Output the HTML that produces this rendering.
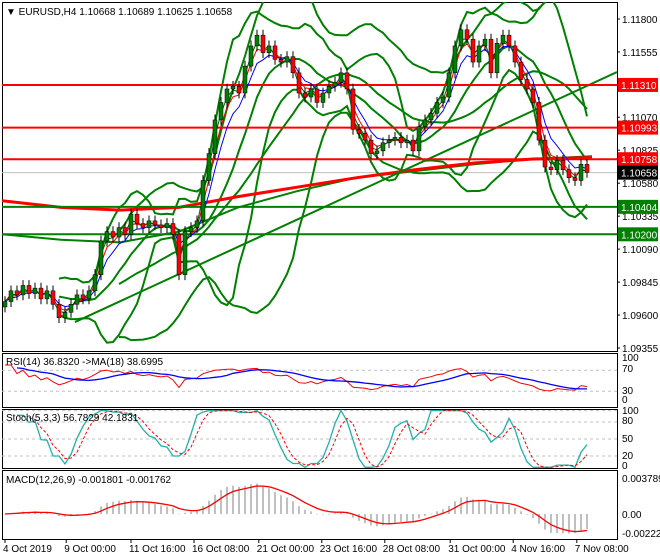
<!DOCTYPE html>
<html><head><meta charset="utf-8"><style>
html,body{margin:0;padding:0;background:#fff;}
svg{display:block;font-family:"Liberation Sans",sans-serif;}
</style></head><body>
<svg id="c" width="660" height="560" viewBox="0 0 660 560" xmlns="http://www.w3.org/2000/svg"></svg>
<script>
// ===== DATA =====
const closes = [1.0970,1.0978,1.0975,1.0982,1.0976,1.0980,1.0972,1.0978,1.0968,1.0958,1.0962,1.0968,1.0975,1.0972,1.0978,1.0990,1.1015,1.1022,1.1018,1.1025,1.1020,1.1035,1.1028,1.1025,1.1030,1.1027,1.1025,1.1028,1.1020,1.0990,1.1022,1.1025,1.1030,1.1060,1.1080,1.1105,1.1118,1.1128,1.1130,1.1125,1.1145,1.1160,1.1168,1.1155,1.1160,1.1150,1.1148,1.1152,1.1140,1.1125,1.1122,1.1128,1.1118,1.1125,1.1130,1.1133,1.1140,1.1128,1.1098,1.1095,1.1090,1.1080,1.1082,1.1088,1.1090,1.1092,1.1088,1.1090,1.1082,1.1100,1.1105,1.1110,1.1118,1.1122,1.1140,1.1160,1.1172,1.1165,1.1148,1.1160,1.1165,1.1140,1.1162,1.1168,1.1160,1.1148,1.1135,1.1128,1.1118,1.1090,1.1070,1.1068,1.1075,1.1068,1.1062,1.1060,1.1072,1.1066];
const firstOpen = 1.0966;
const slowRedMA = [1.1045,1.1040,1.1038,1.1040,1.1048,1.1055,1.1062,1.1068,1.1073,1.1076,1.1077];
const slowGreenMA = [1.1020,1.1016,1.1014,1.1022,1.1040,1.1052,1.1062,1.1067,1.1072,1.1076,1.1078];
const trendLine = [1.09548,1.11406];
const redLevels = [1.11310,1.10993,1.10758];
const greenLevels = [1.10404,1.10200];
const lastPrice = 1.10658;
const priceTicks = [1.11800,1.11555,1.11070,1.10825,1.10580,1.10335,1.10090,1.09845,1.09600,1.09355];
const timeLabels = ["4 Oct 2019","9 Oct 00:00","11 Oct 16:00","16 Oct 08:00","21 Oct 00:00","23 Oct 16:00","28 Oct 08:00","31 Oct 00:00","4 Nov 16:00","7 Nov 08:00"];
const timeIdx = [0,10.2,21,31.5,42.3,52.8,63.3,74.2,84.7,95.3];

// ===== SCALES =====
const X0=5, DX=6, PR=617;
const xb = i => X0 + i*DX;
const yp = p => 19 + (1.118 - p)*13457;
const yRsi = v => 407 - 0.525*v;
const ySto = v => 467.3 - 0.567*v;
const yMacd = v => 514 - v*9500;
const svg = document.getElementById('c');
const NS='http://www.w3.org/2000/svg';
function mk(tag, at, parent){const e=document.createElementNS(NS,tag);for(const k in at)e.setAttribute(k,at[k]);(parent||svg).appendChild(e);return e;}
function poly(pts, stroke, w, dash, name){
  const e=mk('polyline',{points:pts.map(p=>p[0].toFixed(1)+','+p[1].toFixed(1)).join(' '),fill:'none',stroke:stroke,'stroke-width':w});
  if(dash)e.setAttribute('stroke-dasharray',dash);
  
  
  return e;
}
function txt(x,y,s,opt){const e=mk('text',Object.assign({x:x,y:y,'font-size':11,fill:'#000'},opt||{}));e.textContent=s;return e;}

const defs=mk('defs',{});
[['cm',2,2,615,349],['cr',2,353,615,54],['cs',2,409,615,59],['cd',2,470,615,69]].forEach(c=>{const cp=mk('clipPath',{id:c[0]},defs);mk('rect',{x:c[1],y:c[2],width:c[3],height:c[4]},cp);});

[[2,2,615,349,'main-panel'],[2,353,615,54,'rsi-panel'],[2,409,615,59,'stoch-panel'],[2,470,615,69,'macd-panel']].forEach(r=>{
  const e=mk('rect',{x:r[0]+0.5,y:r[1]+0.5,width:r[2],height:r[3],fill:'#fff',stroke:'#000','stroke-width':1});
  
  
});

// ===== MAIN =====
const gM=mk('g',{'clip-path':'url(#cm)'});
function sma(a,n){return a.map((v,i)=>{if(i<n-1)return null;let s=0;for(let k=i-n+1;k<=i;k++)s+=a[k];return s/n;});}
function ema(a,n){const k=2/(n+1);let r=[],p=a[0];a.forEach((v,i)=>{p=i?v*k+p*(1-k):v;r.push(p);});return r;}
function std(a,n,m){return a.map((v,i)=>{if(m[i]==null)return null;let s=0;for(let k=i-n+1;k<=i;k++)s+=(a[k]-m[i])**2;return Math.sqrt(s/n);});}
function series(a,f){const pts=[];a.forEach((v,i)=>{if(v!=null)pts.push([xb(i),f(v)]);});return pts;}

const gl=mk('line',{x1:2,x2:PR,y1:yp(lastPrice),y2:yp(lastPrice),stroke:'#c0c0c0','stroke-width':1},gM);


[[10,2],[20,2]].forEach((b,bi)=>{
  const m=sma(closes,b[0]), sd=std(closes,b[0],m);
  const up=m.map((v,i)=>v==null?null:v+b[1]*sd[i]), lo=m.map((v,i)=>v==null?null:v-b[1]*sd[i]);
  [up,m,lo].forEach((s,si)=>{const e=poly(series(s,yp),'#008000',2,null,'bollinger-'+b[0]+'-'+['upper','middle','lower'][si]);gM.appendChild(e);});
});
const sx=i=>2+i*(590/(slowRedMA.length-1));
gM.appendChild(poly(slowGreenMA.map((v,i)=>[sx(i),yp(v)]),'#008000',2,null,'slow-green-ma'));
gM.appendChild(poly(slowRedMA.map((v,i)=>[sx(i),yp(v)]),'#ff0000',3,null,'slow-red-ma'));
const tl=mk('line',{x1:75,y1:yp(trendLine[0]),x2:PR,y2:yp(trendLine[1]),stroke:'#008000','stroke-width':2},gM);

redLevels.forEach(v=>{const e=mk('line',{x1:2,x2:PR,y1:yp(v),y2:yp(v),stroke:'#ff0000','stroke-width':2},gM);
  });
greenLevels.forEach(v=>{const e=mk('line',{x1:2,x2:PR,y1:yp(v),y2:yp(v),stroke:'#008000','stroke-width':2},gM);
  });

gM.appendChild(poly(series(ema(closes,3),yp),'#ff0000',1,null,'ema-fast'));
gM.appendChild(poly(series(ema(closes,5),yp),'#0000ff',1,null,'ema-slow'));
gM.appendChild(poly(series(ema(closes,2),yp),'#006400',1,null,'ema-fastest'));

closes.forEach((c,i)=>{
  const o=i?closes[i-1]:firstOpen, hi=Math.max(o,c)+0.0004, lo=Math.min(o,c)-0.0004;
  const x=xb(i);
  const w=mk('line',{x1:x,x2:x,y1:yp(hi),y2:yp(lo),stroke:'#000','stroke-width':1},gM);
  
  const top=yp(Math.max(o,c)), h=Math.max(1,Math.abs(yp(o)-yp(c)));
  const b=mk('rect',{x:x-2,y:top,width:4,height:h,fill:c>=o?'#008000':'#ff0000',stroke:'#000','stroke-width':0.5},gM);
  
});

const hd=txt(6,15,'▼ EURUSD,H4  1.10668 1.10689 1.10625 1.10658',{'font-size':10});


priceTicks.forEach(p=>{const t=txt(622,yp(p)+4,p.toFixed(5),{'font-size':10});
  
  mk('line',{x1:617,x2:620,y1:yp(p),y2:yp(p),stroke:'#000'});});
function tag(v,col,name){const y=yp(v);const r=mk('rect',{x:618,y:y-7,width:40,height:14,fill:col});
  
  txt(621,y+4,v.toFixed(5),{'font-size':10,fill:'#fff'});}
redLevels.forEach(v=>tag(v,'#ff0000','level-price-tag'));
greenLevels.forEach(v=>tag(v,'#008000','level-price-tag'));
tag(lastPrice,'#000','current-price-tag');

// ===== RSI =====
function rsi(a,n){let r=[],g=0,l=0;for(let i=1;i<a.length;i++){const d=a[i]-a[i-1];const up=Math.max(d,0),dn=Math.max(-d,0);
  const m=Math.min(i,n);g=(g*(m-1)+up)/m;l=(l*(m-1)+dn)/m;r.push(100-100/(1+g/(l||1e-9)));}
  r.unshift(r[0]);return r.map(v=>Math.max(25,Math.min(85,v*0.6+20)));}
const rs=rsi(closes,7);
const rsMa=rs.map((v,i)=>{if(i<2)return null;const n=Math.min(9,i+1);let s=0;for(let k=i-n+1;k<=i;k++)s+=rs[k];return s/n;});
const gR=mk('g',{'clip-path':'url(#cr)'});
[70,30].forEach(v=>mk('line',{x1:2,x2:PR,y1:yRsi(v),y2:yRsi(v),stroke:'#c0c0c0','stroke-dasharray':'3,3'},gR));
gR.appendChild(poly(series(rs,yRsi),'#ff0000',1,null,'rsi-line'));
gR.appendChild(poly(series(rsMa,yRsi),'#0000ff',1.3,null,'rsi-ma-line'));
txt(6,365,'RSI(14) 36.8320  ->MA(18) 38.6995',{'font-size':10});
[[100,361],[70,372],[30,394],[0,403]].forEach(a=>txt(622,a[1],String(a[0]),{'font-size':10}));

// ===== STOCH =====
const K=closes.map((c,i)=>{const s=Math.max(0,i-4);let h=-1,l=9;for(let k=s;k<=i;k++){const o=k?closes[k-1]:firstOpen;h=Math.max(h,o,closes[k]);l=Math.min(l,o,closes[k]);}return 100*(c-l)/((h-l)||1e-9);});
const Ks=K.map((v,i)=>(i<2)?null:(K[i]+K[i-1]+K[i-2])/3);
const Ds=Ks.map((v,i)=>(i<4)?null:(Ks[i]+Ks[i-1]+Ks[i-2])/3);
const gS=mk('g',{'clip-path':'url(#cs)'});
[100,80,50,20].forEach(v=>mk('line',{x1:2,x2:PR,y1:ySto(v),y2:ySto(v),stroke:'#c0c0c0','stroke-dasharray':'3,3'},gS));
gS.appendChild(poly(series(Ks,ySto),'#20b2aa',1.3,null,'stoch-k-line'));
gS.appendChild(poly(series(Ds,ySto),'#ff0000',1,'3,2','stoch-d-line'));
txt(6,421,'Stoch(5,3,3) 56.7829 42.1831',{'font-size':10});
[[100,414],[80,424],[50,442],[20,459],[0,469]].forEach(a=>txt(622,a[1],String(a[0]),{'font-size':10}));

// ===== MACD =====
const e1=ema(closes,6), e2=ema(closes,13);
const macd=e1.map((v,i)=>v-e2[i]);
const sig=ema(macd,5);
const gD=mk('g',{'clip-path':'url(#cd)'});
macd.forEach((v,i)=>{const y=yMacd(v);const b=mk('rect',{x:xb(i)-1,y:Math.min(y,514),width:2,height:Math.max(0.5,Math.abs(y-514)),fill:'#c0c0c0'},gD);
  });
gD.appendChild(poly(series(sig,yMacd),'#ff0000',1.3,null,'macd-signal-line'));
txt(6,483,'MACD(12,26,9) -0.001801 -0.001762',{'font-size':10});
[['0.003789',482],['0.00',518],['-0.002223',537]].forEach(a=>txt(622,a[1],a[0],{'font-size':10}));

timeLabels.forEach((s,i)=>{const x=xb(timeIdx[i]);mk('line',{x1:x,x2:x,y1:539,y2:543,stroke:'#000'});
  const t=txt(x-2,552,s,{'font-size':10});});
</script>
</body></html>
